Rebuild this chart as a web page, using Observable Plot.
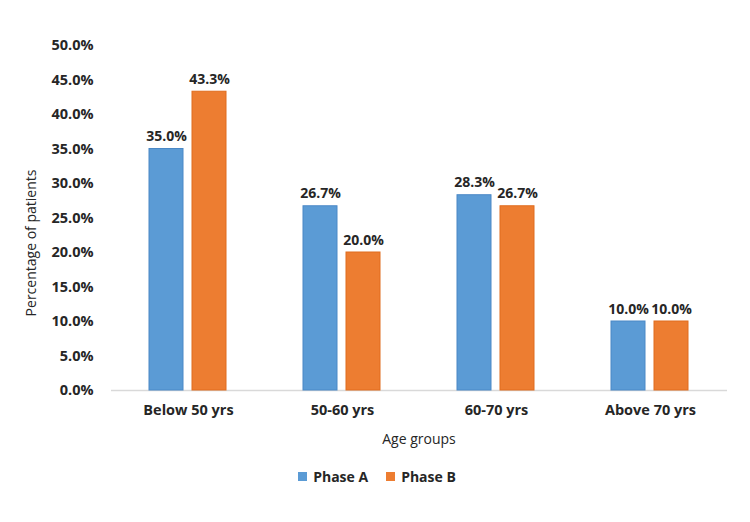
<!DOCTYPE html>
<html><head><meta charset="utf-8">
<script src="https://cdn.jsdelivr.net/npm/d3@7"></script>
<script src="https://cdn.jsdelivr.net/npm/@observablehq/plot@0.6"></script>
<style>
body{margin:0;background:#fff;font-family:"Open Sans",sans-serif;color:#262626;}
#wrap{position:relative;width:750px;height:522px;overflow:hidden;}
#ytitle{position:absolute;left:30px;top:243px;transform:translate(-50%,-50%) rotate(-90deg);white-space:nowrap;font-size:14px;}
#xtitle{position:absolute;left:111px;width:616px;top:429px;line-height:20px;text-align:center;font-size:14px;}
#legend{position:absolute;left:0;width:754px;top:466px;line-height:20px;text-align:center;font-size:14px;font-weight:700;}
#legend span.item{display:inline-flex;align-items:center;margin:0 9px;}
#legend span.sw{display:inline-block;width:9px;height:9px;margin-right:6px;}
</style></head><body><div id="wrap"></div><script>
const categories = ["Below 50 yrs", "50-60 yrs", "60-70 yrs", "Above 70 yrs"];
const phases = ["Phase A", "Phase B"];
const phaseA = [35.0, 26.7, 28.3, 10.0];
const phaseB = [43.3, 20.0, 26.7, 10.0];
const yTicks = [0, 5, 10, 15, 20, 25, 30, 35, 40, 45, 50];
const fills = ["#5B9BD5", "#ED7D31"];
const strokes = ["#4A88C6", "#E06C1E"];

const rows = [phaseA, phaseB].map((vals, p) =>
  categories.map((c, i) => ({category: c, phase: phases[p], value: vals[i]})));
const data = rows.flat();

const fmt = d => d.toFixed(1) + "%";

const plot = Plot.plot({
  width: 750, height: 430,
  marginTop: 45, marginBottom: 40, marginLeft: 111, marginRight: 23,
  style: {fontFamily: "'Open Sans', sans-serif", fontSize: "14.5px", color: "#262626", background: "white", overflow: "visible"},
  fx: {domain: categories, padding: 0, label: null},
  x: {domain: phases, paddingInner: 0.2, paddingOuter: 0.89, axis: null},
  y: {domain: [0, 50], axis: null},
  marks: [
    Plot.axisY({ticks: yTicks, tickSize: 0, tickPadding: 18, tickFormat: fmt, label: null, fontWeight: 700, fontSize: 14.5}),
    Plot.axisFx({anchor: "bottom", tickSize: 0, tickPadding: 14, label: null, fontWeight: 700, fontSize: 14.5}),
    Plot.ruleY([0], {stroke: "#D9D9D9", strokeWidth: 1.3}),
    ...rows.map((r, p) => Plot.barY(r, {fx: "category", x: "phase", y: "value", fill: fills[p], stroke: strokes[p], strokeWidth: 1})),
    Plot.text(data, {fx: "category", x: "phase", y: "value", text: d => fmt(d.value), lineAnchor: "bottom", dy: -8, fontWeight: 700, fontSize: 14, fill: "#262626"})
  ]
});

const wrap = document.getElementById("wrap");
wrap.appendChild(plot);
const yt = document.createElement("div"); yt.id = "ytitle"; yt.textContent = "Percentage of patients"; wrap.appendChild(yt);
const xt = document.createElement("div"); xt.id = "xtitle"; xt.textContent = "Age groups"; wrap.appendChild(xt);
const lg = document.createElement("div"); lg.id = "legend";
phases.forEach((p, i) => {
  const it = document.createElement("span"); it.className = "item";
  const sw = document.createElement("span"); sw.className = "sw"; sw.style.background = fills[i];
  it.appendChild(sw); it.appendChild(document.createTextNode(p)); lg.appendChild(it);
});
wrap.appendChild(lg);
</script></body></html>
